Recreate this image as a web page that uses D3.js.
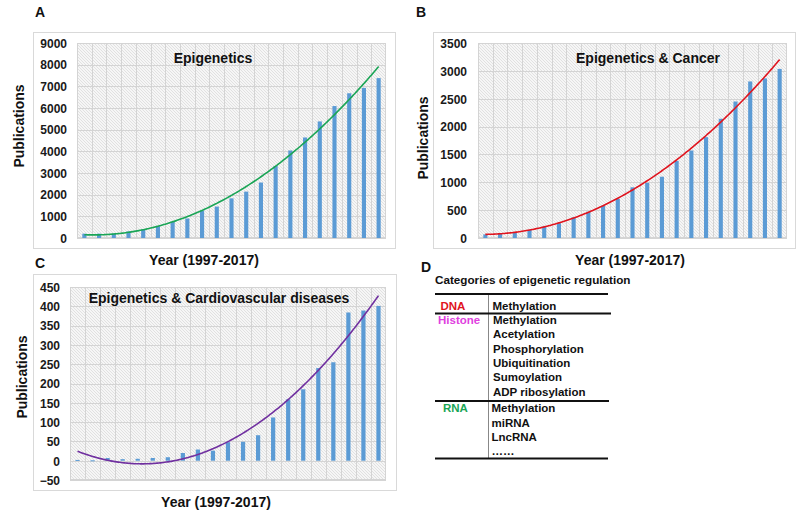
<!DOCTYPE html>
<html>
<head>
<meta charset="utf-8">
<script src="https://cdn.jsdelivr.net/npm/d3@7/dist/d3.min.js"></script>
<style>
  html, body { margin: 0; padding: 0; background: #fff; }
  svg { display: block; }
  text { font-family: "Liberation Sans", Arial, Helvetica, sans-serif; }
</style>
</head>
<body>
<svg id="chart" width="800" height="512"></svg>
<script>
// ---------------- DATA ----------------
const years = d3.range(1997, 2018).map(String);

const epigeneticsValues = [200, 200, 200, 300, 400, 550, 750, 900, 1260, 1450, 1830, 2140, 2560, 3320, 4040, 4640, 5380, 6090, 6680, 6930, 7380];
const cancerValues = [65, 85, 100, 145, 205, 265, 370, 470, 580, 700, 910, 990, 1100, 1385, 1570, 1810, 2140, 2450, 2810, 2865, 3035];
const cardioValues = [2, 1, 7, 4, 5, 7, 9, 20, 29, 26, 48, 49, 66, 112, 159, 185, 240, 255, 384, 389, 401];

const ticksA = [0, 1000, 2000, 3000, 4000, 5000, 6000, 7000, 8000, 9000];
const ticksB = [0, 500, 1000, 1500, 2000, 2500, 3000, 3500];
const ticksC = [-50, 0, 50, 100, 150, 200, 250, 300, 350, 400, 450];

const tableTitle = "Categories of epigenetic regulation";
const tableGroups = [
  { name: "DNA", items: ["Methylation"] },
  { name: "Histone", items: ["Methylation", "Acetylation", "Phosphorylation", "Ubiquitination", "Sumoylation", "ADP ribosylation"] },
  { name: "RNA", items: ["Methylation", "miRNA", "LncRNA", "……"] }
];

// ---------------- DRAW ----------------
const svg = d3.select("#chart");
const defs = svg.append("defs");
const pat = defs.append("pattern")
  .attr("id", "hatch").attr("patternUnits", "userSpaceOnUse")
  .attr("width", 3).attr("height", 3);
pat.append("rect").attr("width", 3).attr("height", 3).attr("fill", "#f6f6f6");
pat.append("path").attr("d", "M0,0 L3,3 M-1,2 L1,4 M2,-1 L4,1")
  .attr("stroke", "#dcdcdc").attr("stroke-width", 0.8);

// quadratic least-squares fit (like a spreadsheet's order-2 trendline)
function quadFit(vals) {
  const n = vals.length;
  let S = [0, 0, 0, 0, 0], T = [0, 0, 0];
  vals.forEach((v, i) => {
    const x = i + 1;
    for (let k = 0; k < 5; k++) S[k] += Math.pow(x, k);
    for (let k = 0; k < 3; k++) T[k] += v * Math.pow(x, k);
  });
  const M = [[S[0], S[1], S[2], T[0]], [S[1], S[2], S[3], T[1]], [S[2], S[3], S[4], T[2]]];
  for (let c = 0; c < 3; c++) {
    for (let r = c + 1; r < 3; r++) {
      const f = M[r][c] / M[c][c];
      for (let k = c; k < 4; k++) M[r][k] -= f * M[c][k];
    }
  }
  const coef = [0, 0, 0];
  for (let r = 2; r >= 0; r--) {
    let s = M[r][3];
    for (let k = r + 1; k < 3; k++) s -= M[r][k] * coef[k];
    coef[r] = s / M[r][r];
  }
  return x => coef[0] + coef[1] * x + coef[2] * x * x;
}

function drawPanel(cfg) {
  const g = svg.append("g");
  // outer frame
  g.append("rect")
    .attr("x", cfg.frame[0] + 0.5).attr("y", cfg.frame[1] + 0.5)
    .attr("width", cfg.frame[2]).attr("height", cfg.frame[3])
    .attr("fill", "#fff").attr("stroke", "#d9d9d9").attr("stroke-width", 1);

  const x = d3.scaleBand().domain(years).range([cfg.left, cfg.right]).paddingInner(0.72).paddingOuter(0.36);
  const xg = d3.scaleBand().domain(years).range([cfg.left, cfg.right]).padding(0);
  const y = d3.scaleLinear().domain(cfg.domain).range([cfg.bottom, cfg.top]);

  // plot background
  g.append("rect")
    .attr("x", cfg.left).attr("y", cfg.top)
    .attr("width", cfg.right - cfg.left).attr("height", cfg.bottom - cfg.top)
    .attr("fill", "url(#hatch)");

  // gridlines
  g.append("g").selectAll("line").data(cfg.ticks).join("line")
    .attr("x1", cfg.left).attr("x2", cfg.right)
    .attr("y1", d => Math.round(y(d)) + 0.5).attr("y2", d => Math.round(y(d)) + 0.5)
    .attr("stroke", "#d4d4d4").attr("stroke-width", 1);
  g.append("g").selectAll("line").data(years.slice(1)).join("line")
    .attr("x1", d => Math.round(xg(d)) + 0.5).attr("x2", d => Math.round(xg(d)) + 0.5)
    .attr("y1", cfg.top).attr("y2", cfg.bottom)
    .attr("stroke", "#d4d4d4").attr("stroke-width", 1);
  g.append("rect")
    .attr("x", cfg.left + 0.5).attr("y", cfg.top + 0.5)
    .attr("width", cfg.right - cfg.left - 1).attr("height", cfg.bottom - cfg.top - 1)
    .attr("fill", "none").attr("stroke", "#d4d4d4");

  // y tick labels via axis
  const yAxis = d3.axisLeft(y).tickValues(cfg.ticks).tickSize(0).tickPadding(0).tickFormat(d3.format("d"));
  const ax = g.append("g").attr("transform", `translate(${cfg.tickRight},0)`).call(yAxis);
  ax.select(".domain").remove();
  ax.selectAll("text")
    .attr("font-family", "'Liberation Sans', Arial, sans-serif")
    .attr("font-size", 12).attr("font-weight", "bold").attr("fill", "#1a1a1a")
    .attr("dy", "0.36em");

  // bars
  g.append("g").selectAll("rect").data(cfg.values).join("rect")
    .attr("x", (d, i) => x(years[i]))
    .attr("width", x.bandwidth())
    .attr("y", d => Math.min(y(d), y(0)))
    .attr("height", d => Math.max(1, Math.abs(y(0) - y(d))))
    .attr("fill", "#5b9bd5");

  // trendline
  const f = quadFit(cfg.values);
  const tx = d3.scaleLinear().domain([1, years.length])
    .range([x(years[0]) + x.bandwidth() / 2, x(years[years.length - 1]) + x.bandwidth() / 2]);
  const pts = d3.range(1, years.length + 0.001, 0.1);
  g.append("path")
    .datum(pts)
    .attr("d", d3.line().x(t => tx(t)).y(t => y(f(t))).curve(d3.curveLinear))
    .attr("fill", "none").attr("stroke", cfg.lineColor).attr("stroke-width", 1.6);

  // title
  g.append("text").attr("x", cfg.titlePos[0]).attr("y", cfg.titlePos[1])
    .attr("text-anchor", "middle").attr("font-size", 14).attr("font-weight", "bold").attr("fill", "#111")
    .text(cfg.title);
  // axis titles
  g.append("text")
    .attr("transform", `translate(${cfg.ylabPos[0]},${cfg.ylabPos[1]}) rotate(-90)`)
    .attr("text-anchor", "middle").attr("font-size", 14).attr("font-weight", "bold").attr("fill", "#111")
    .text("Publications");
  g.append("text").attr("x", cfg.xlabPos[0]).attr("y", cfg.xlabPos[1])
    .attr("text-anchor", "middle").attr("font-size", 14).attr("font-weight", "bold").attr("fill", "#111")
    .text("Year (1997-2017)");
  // panel letter
  g.append("text").attr("x", cfg.letterPos[0]).attr("y", cfg.letterPos[1])
    .attr("font-size", 14).attr("font-weight", "bold").attr("fill", "#111")
    .text(cfg.letter);
}

drawPanel({
  letter: "A", letterPos: [35, 17],
  frame: [33, 32, 362, 216],
  left: 77, right: 386, top: 43, bottom: 238,
  domain: [0, 9000], ticks: ticksA, tickRight: 67,
  values: epigeneticsValues, lineColor: "#1aa556",
  title: "Epigenetics", titlePos: [213, 63],
  ylabPos: [24, 126], xlabPos: [204, 265]
});

drawPanel({
  letter: "B", letterPos: [416, 17],
  frame: [433, 32, 362, 216],
  left: 478, right: 787, top: 43, bottom: 238,
  domain: [0, 3500], ticks: ticksB, tickRight: 467,
  values: cancerValues, lineColor: "#e0141e",
  title: "Epigenetics & Cancer", titlePos: [648, 63],
  ylabPos: [428, 138], xlabPos: [630, 265]
});

drawPanel({
  letter: "C", letterPos: [35, 268],
  frame: [33, 274, 363, 216],
  left: 70, right: 386, top: 287, bottom: 480,
  domain: [-50, 450], ticks: ticksC, tickRight: 60,
  values: cardioValues, lineColor: "#7030a0",
  title: "Epigenetics & Cardiovascular diseases", titlePos: [219, 303],
  ylabPos: [27, 377], xlabPos: [216, 507]
});

// ---------------- PANEL D (table) ----------------
const gd = svg.append("g");
gd.append("text").attr("x", 421).attr("y", 271.5).attr("font-size", 14).attr("font-weight", "bold").attr("fill", "#111").text("D");
gd.append("text").attr("x", 435).attr("y", 284).attr("font-size", 11.7).attr("font-weight", "bold").attr("fill", "#111").text(tableTitle);

const rowH = 14.3;
const groupColors = { DNA: "#e0141e", Histone: "#e040e0", RNA: "#1aa556" };
const groupTops = [299, 313.5, 401];   // first row centre offsets computed below
const firstRowY = [306, 320, 408.3];
const nameX = { DNA: 440.5, Histone: 438, RNA: 443 };
const itemX = [492.5, 493, 491.5];

tableGroups.forEach((grp, gi) => {
  gd.append("text").attr("x", nameX[grp.name]).attr("y", firstRowY[gi]).attr("dy", "0.36em")
    .attr("font-size", 11.5).attr("font-weight", "bold").attr("fill", groupColors[grp.name]).text(grp.name);
  gd.selectAll(null).data(grp.items).join("text")
    .attr("x", itemX[gi]).attr("y", (d, i) => firstRowY[gi] + i * rowH).attr("dy", "0.36em")
    .attr("font-size", 11.5).attr("font-weight", "bold").attr("fill", "#111").text(d => d);
});

// rules
gd.append("line").attr("x1", 488.5).attr("x2", 488.5).attr("y1", 294).attr("y2", 458).attr("stroke", "#888").attr("stroke-width", 1);
[[294, 608], [313.5, 611], [401, 609], [458.5, 608]].forEach(([yy, x2]) => {
  gd.append("line").attr("x1", 435).attr("x2", x2).attr("y1", yy).attr("y2", yy)
    .attr("stroke", "#111").attr("stroke-width", 1.8);
});
</script>
</body>
</html>
